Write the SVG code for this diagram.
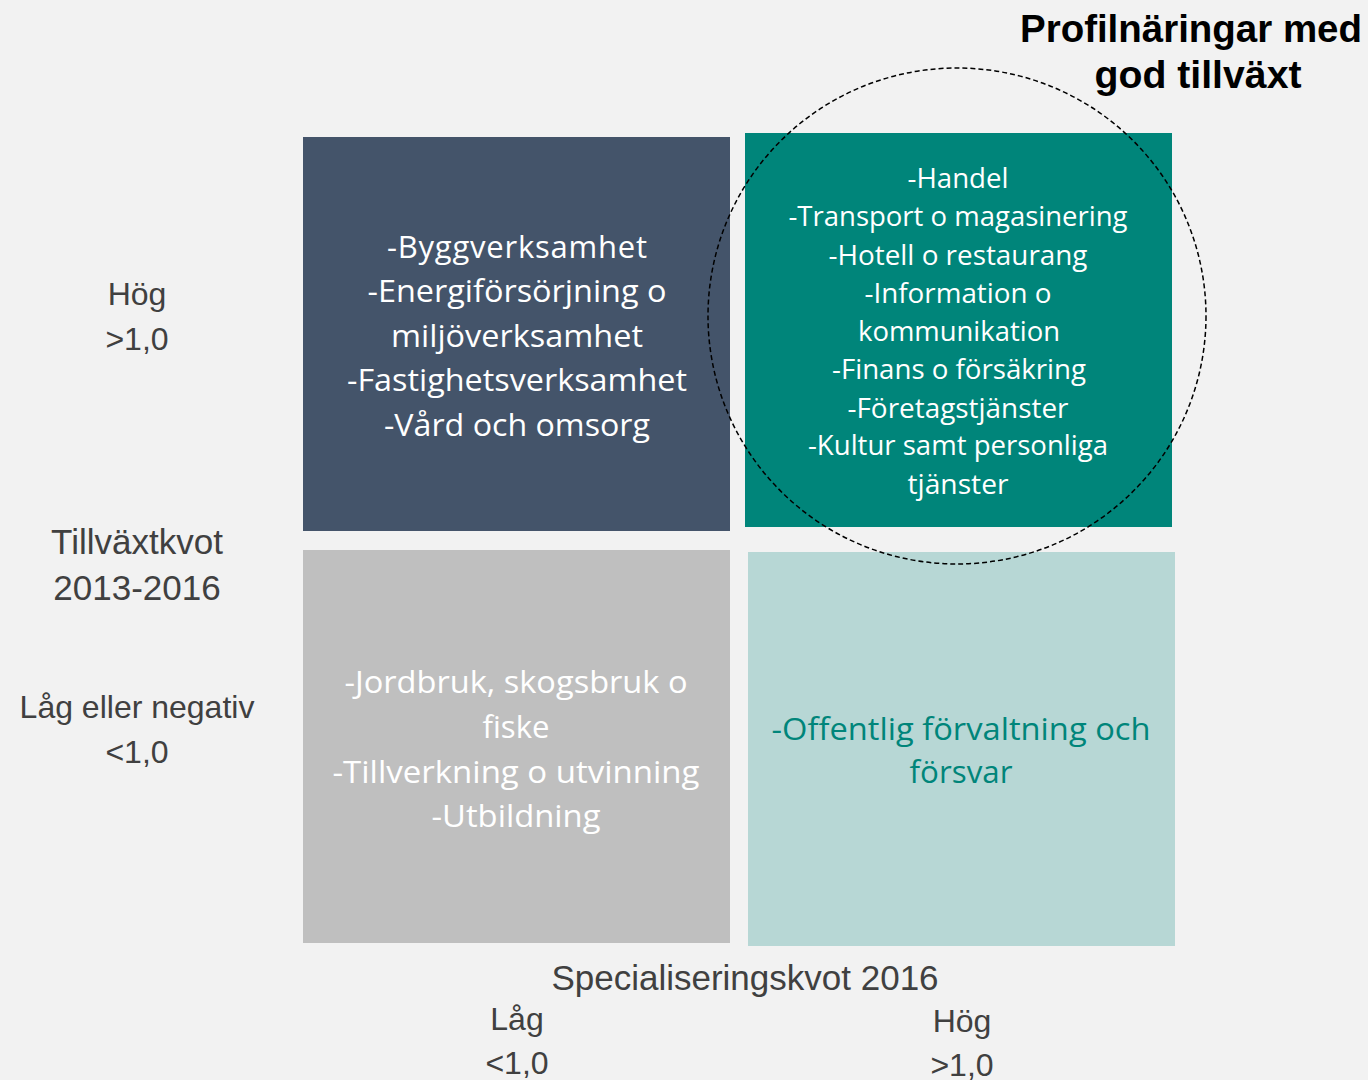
<svg xmlns="http://www.w3.org/2000/svg" width="1368" height="1080" viewBox="0 0 1368 1080">
<style>
.bg{fill:#f2f2f2}
.lbl{font-family:"Liberation Sans",Arial,sans-serif;fill:#404040;text-anchor:middle}
.box{font-family:"Open Sans","Noto Sans",sans-serif;text-anchor:middle}
.w{fill:#ffffff}
.title{font-family:"Liberation Sans",Arial,sans-serif;font-weight:bold;fill:#000000;text-anchor:middle;font-size:38px}
</style>
<rect class="bg" x="0" y="0" width="1368" height="1080"/>
<g id="q-top-left">
<rect x="303" y="137" width="427" height="394" fill="#44546a"/>
<text class="box w" font-size="31" lengthAdjust="spacingAndGlyphs">
<tspan x="517" y="258" textLength="260">-Byggverksamhet</tspan>
</text>
<text class="box w" font-size="31" x="517" y="302" textLength="299" lengthAdjust="spacingAndGlyphs">-Energiförsörjning o</text>
<text class="box w" font-size="31" x="517" y="347" textLength="252" lengthAdjust="spacingAndGlyphs">miljöverksamhet</text>
<text class="box w" font-size="31" x="517" y="391" textLength="340" lengthAdjust="spacingAndGlyphs">-Fastighetsverksamhet</text>
<text class="box w" font-size="31" x="517" y="436" textLength="266" lengthAdjust="spacingAndGlyphs">-Vård och omsorg</text>
</g>
<g id="q-top-right">
<rect x="745" y="133" width="427" height="394" fill="#00857a"/>
<text class="box w" font-size="27.5" x="958" y="188" textLength="101" lengthAdjust="spacingAndGlyphs">-Handel</text>
<text class="box w" font-size="27.5" x="958" y="226" textLength="339" lengthAdjust="spacingAndGlyphs">-Transport o magasinering</text>
<text class="box w" font-size="27.5" x="958" y="265" textLength="259" lengthAdjust="spacingAndGlyphs">-Hotell o restaurang</text>
<text class="box w" font-size="27.5" x="958" y="303" textLength="187" lengthAdjust="spacingAndGlyphs">-Information o</text>
<text class="box w" font-size="27.5" x="959" y="341" textLength="202" lengthAdjust="spacingAndGlyphs">kommunikation</text>
<text class="box w" font-size="27.5" x="959" y="379" textLength="254" lengthAdjust="spacingAndGlyphs">-Finans o försäkring</text>
<text class="box w" font-size="27.5" x="958" y="418" textLength="221" lengthAdjust="spacingAndGlyphs">-Företagstjänster</text>
<text class="box w" font-size="27.5" x="958" y="455" textLength="300" lengthAdjust="spacingAndGlyphs">-Kultur samt personliga</text>
<text class="box w" font-size="27.5" x="958" y="494" textLength="101" lengthAdjust="spacingAndGlyphs">tjänster</text>
</g>
<g id="q-bottom-left">
<rect x="303" y="550" width="427" height="393" fill="#bfbfbf"/>
<text class="box w" font-size="31" x="516" y="693" textLength="343" lengthAdjust="spacingAndGlyphs">-Jordbruk, skogsbruk o</text>
<text class="box w" font-size="31" x="516" y="738" textLength="67" lengthAdjust="spacingAndGlyphs">fiske</text>
<text class="box w" font-size="31" x="516" y="783" textLength="367" lengthAdjust="spacingAndGlyphs">-Tillverkning o utvinning</text>
<text class="box w" font-size="31" x="516" y="827" textLength="169" lengthAdjust="spacingAndGlyphs">-Utbildning</text>
</g>
<g id="q-bottom-right">
<rect x="748" y="552" width="427" height="394" fill="#b7d7d5"/>
<text class="box" fill="#00857a" font-size="31" x="961" y="740" textLength="379" lengthAdjust="spacingAndGlyphs">-Offentlig förvaltning och</text>
<text class="box" fill="#00857a" font-size="31" x="961" y="783" textLength="103" lengthAdjust="spacingAndGlyphs">försvar</text>
</g>
<g id="highlight-circle">
<ellipse cx="957" cy="316" rx="249" ry="248" fill="none" stroke="#000000" stroke-width="1.5" stroke-dasharray="5,3"/>
</g>
<g id="title">
<text class="title" x="1191" y="42" textLength="342" lengthAdjust="spacingAndGlyphs">Profilnäringar med</text>
<text class="title" x="1198" y="88" textLength="207" lengthAdjust="spacingAndGlyphs">god tillväxt</text>
</g>
<g id="y-axis-labels">
<text class="lbl" font-size="32" x="137" y="305">Hög</text>
<text class="lbl" font-size="32" x="137" y="350">&gt;1,0</text>
<text class="lbl" font-size="35" x="137" y="554">Tillväxtkvot</text>
<text class="lbl" font-size="35" x="137" y="600">2013-2016</text>
<text class="lbl" font-size="32" x="137" y="718">Låg eller negativ</text>
<text class="lbl" font-size="32" x="137" y="763">&lt;1,0</text>
</g>
<g id="x-axis-labels">
<text class="lbl" font-size="35" x="745" y="990">Specialiseringskvot 2016</text>
<text class="lbl" font-size="32" x="517" y="1030">Låg</text>
<text class="lbl" font-size="32" x="517" y="1074">&lt;1,0</text>
<text class="lbl" font-size="32" x="962" y="1032">Hög</text>
<text class="lbl" font-size="32" x="962" y="1076">&gt;1,0</text>
</g>
<g id="connectors"/>
</svg>
